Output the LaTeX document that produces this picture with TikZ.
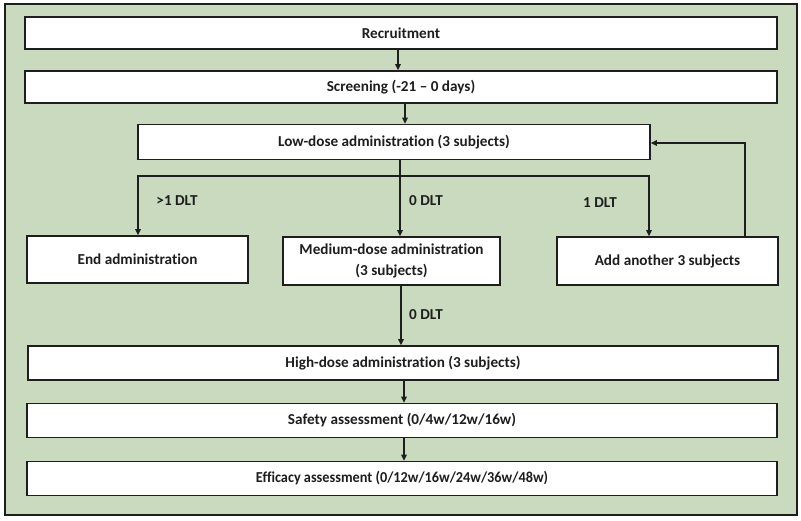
\documentclass[tikz,border=0pt]{standalone}
\usepackage{fontspec}
\setmainfont[Ligatures={NoCommon}]{Carlito}
\usetikzlibrary{arrows.meta}
\definecolor{bggreen}{RGB}{201,218,190}
\definecolor{edge}{RGB}{30,30,30}
\begin{document}
\begin{tikzpicture}[x=1pt,y=-1pt,
  box/.style={draw=edge, line width=1.6pt, fill=white, inner sep=0pt, align=center,
    font=\bfseries\fontsize{15.2}{20.5}\selectfont, text=edge},
  lbl/.style={inner sep=0pt, font=\bfseries\fontsize{15.2}{18}\selectfont, text=edge},
  arr/.style={draw=edge, line width=1.2pt, -{Triangle[length=6pt,width=5.5pt]}},
  ln/.style={draw=edge, line width=1.2pt}]
\useasboundingbox (0,0) rectangle (801,521);
\draw[draw=edge, line width=1.6pt, fill=bggreen] (5,4) rectangle (797,515);
\node[box, minimum width=752pt, minimum height=32pt] (rec) at (401,33) {Recruitment};
\node[box, minimum width=752pt, minimum height=32pt] (scr) at (401,87) {Screening (-21 -- 0 days)};
\node[box, minimum width=512pt, minimum height=35pt] (low) at (394,142) {Low-dose administration (3 subjects)};
\node[box, minimum width=221pt, minimum height=47pt] (endn) at (137.5,259.5) {End administration};
\node[box, minimum width=217pt, minimum height=48pt] (med) at (391.5,261) {Medium-dose administration\\(3 subjects)};
\node[box, minimum width=221pt, minimum height=48pt] (add) at (667.5,261) {Add another 3 subjects};
\node[box, minimum width=750pt, minimum height=34pt] (high) at (403,363) {High-dose administration (3 subjects)};
\node[box, minimum width=750pt, minimum height=34pt] (safe) at (402,420.5) {Safety assessment (0/4w/12w/16w)};
\node[box, minimum width=750pt, minimum height=34pt] (eff) at (402,478.5) {\scalebox{0.94}[1]{Efficacy assessment (0/12w/16w/24w/36w/48w)}};
\node[lbl] (l1) at (177,201) {>1 DLT};
\node[lbl] (l2) at (426,201) {0 DLT};
\node[lbl] (l3) at (600,203) {1 DLT};
\node[lbl] (l4) at (426,315) {0 DLT};
\coordinate (bm) at (400,176);
\coordinate (bl) at (138,176);
\coordinate (brt) at (649,176);
\coordinate (m2) at (401,300);
\coordinate (s2) at (404,390);
\coordinate (fb) at (745,143);
\draw[arr] ([xshift=-3pt]rec.south) -- ([xshift=-3pt]scr.north);
\draw[arr] ([xshift=4pt]scr.south) -- ([xshift=4pt]scr.south |- low.north);
\draw[arr] (low.south -| bm) -- (bm |- med.north);
\draw[arr] (bm) -- (bl) -- (bl |- endn.north);
\draw[arr] (bm) -- (brt) -- (brt |- add.north);
\draw[arr] (add.north -| fb) -- (fb) -- (low.east |- fb);
\draw[arr] (med.south -| m2) -- (high.north -| m2);
\draw[arr] (high.south -| s2) -- (safe.north -| s2);
\draw[arr] (safe.south -| s2) -- (eff.north -| s2);
\end{tikzpicture}
\end{document}
